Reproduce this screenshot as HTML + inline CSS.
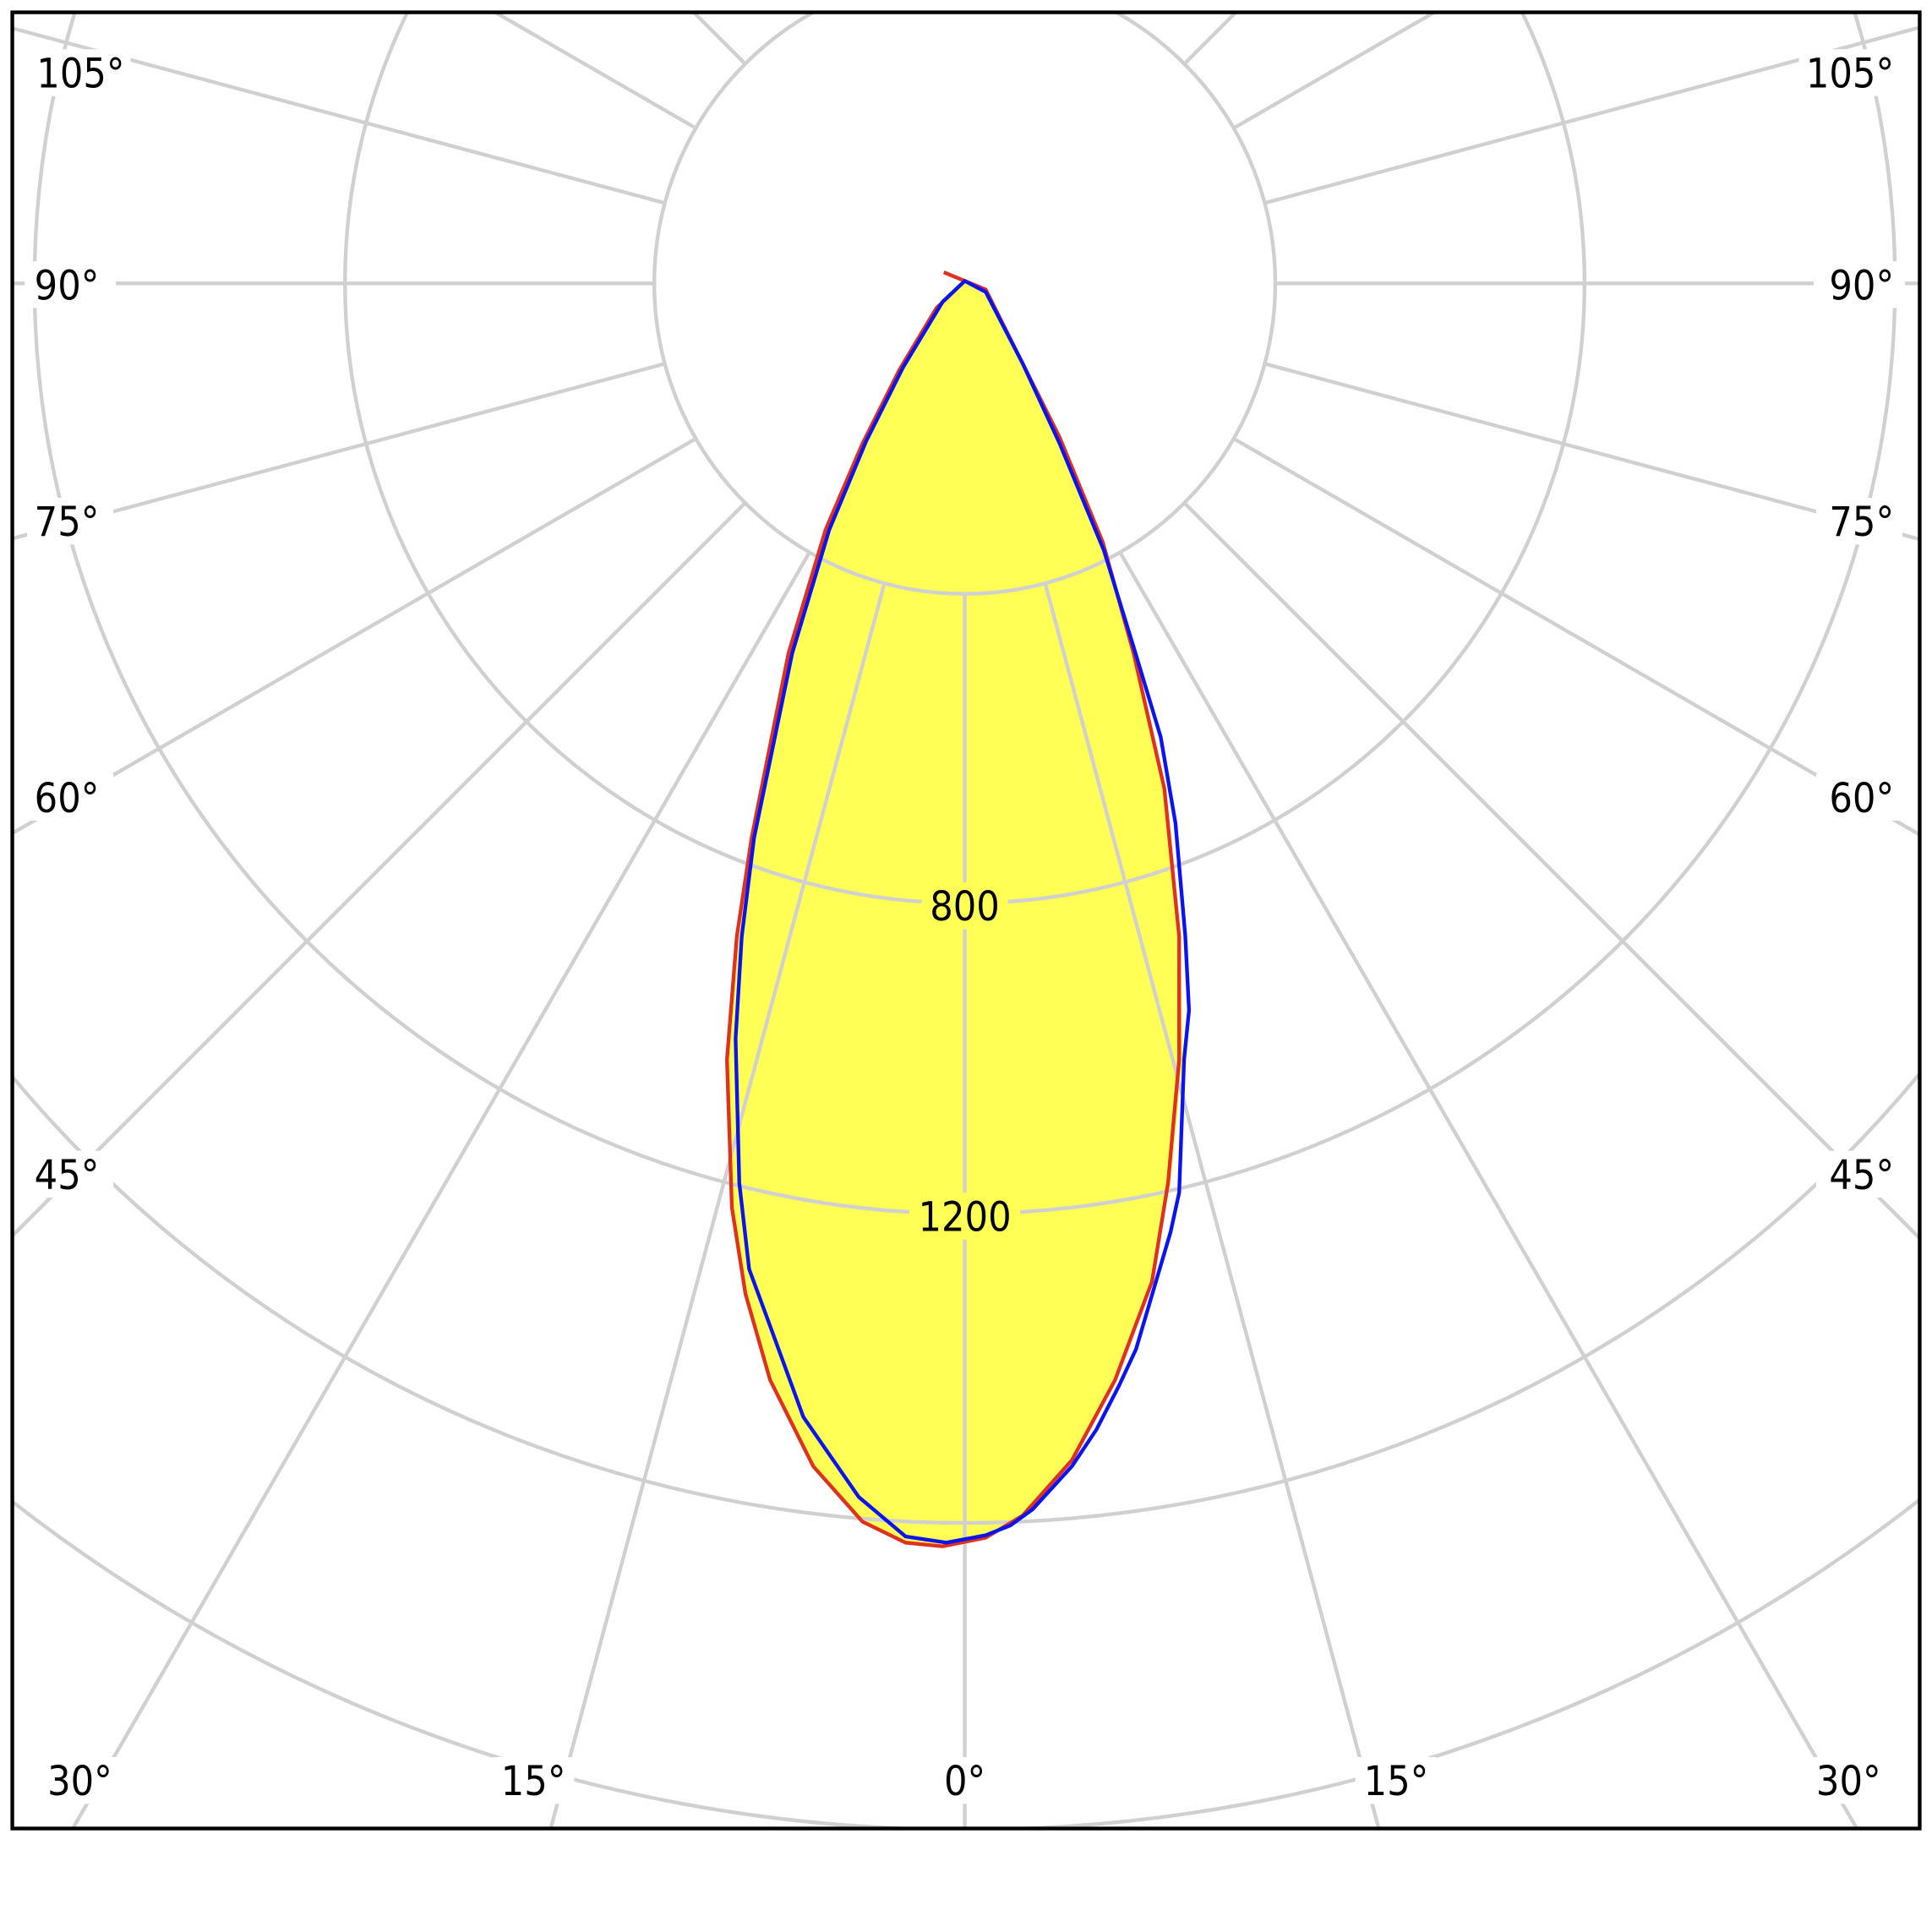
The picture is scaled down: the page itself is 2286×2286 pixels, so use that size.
<!DOCTYPE html>
<html><head><style>html,body{margin:0;padding:0;background:#fff;overflow:hidden;width:2286px;height:2286px}svg{display:block}</style></head>
<body>
<svg width="2286" height="2286" viewBox="0 0 1568 1568" xmlns="http://www.w3.org/2000/svg">
<defs><clipPath id="c"><rect x="10" y="10" width="1548" height="1474"/></clipPath></defs>
<rect width="1568" height="1568" fill="#fff"/>
<g clip-path="url(#c)">
<path d="M783,228 L760,250 L730,300 L700,360 L670,430 L640,530 L610,680 L598,760 L590,860 L594,980 L605,1050 L625,1120 L660,1190 L700,1235 L735,1252 L765,1255 L800,1248 L830,1230 L870,1185 L905,1120 L935,1040 L950,960 L960,860 L958,760 L945,640 L920,530 L895,440 L860,355 L830,295 L800,240 Z" fill="#ffff55"/>
<g fill="none" stroke="#d0d0d0" stroke-width="3">
<circle cx="783" cy="230" r="252"/><circle cx="783" cy="230" r="503"/><circle cx="783" cy="230" r="755"/><circle cx="783" cy="230" r="1006"/><circle cx="783" cy="230" r="1255"/><circle cx="783" cy="230" r="1506"/>
<g transform="translate(783,230)">
<line x1="0" y1="252" x2="0" y2="2500"/>
<g transform="rotate(15)"><line x1="0" y1="252" x2="0" y2="2500"/></g>
<g transform="rotate(30)"><line x1="0" y1="252" x2="0" y2="2500"/></g>
<g transform="rotate(45)"><line x1="0" y1="252" x2="0" y2="2500"/></g>
<g transform="rotate(60)"><line x1="0" y1="252" x2="0" y2="2500"/></g>
<g transform="rotate(75)"><line x1="0" y1="252" x2="0" y2="2500"/></g>
<g transform="rotate(90)"><line x1="0" y1="252" x2="0" y2="2500"/></g>
<g transform="rotate(105)"><line x1="0" y1="252" x2="0" y2="2500"/></g>
<g transform="rotate(120)"><line x1="0" y1="252" x2="0" y2="2500"/></g>
<g transform="rotate(135)"><line x1="0" y1="252" x2="0" y2="2500"/></g>
<g transform="rotate(150)"><line x1="0" y1="252" x2="0" y2="2500"/></g>
<g transform="rotate(165)"><line x1="0" y1="252" x2="0" y2="2500"/></g>
<g transform="rotate(-15)"><line x1="0" y1="252" x2="0" y2="2500"/></g>
<g transform="rotate(-30)"><line x1="0" y1="252" x2="0" y2="2500"/></g>
<g transform="rotate(-45)"><line x1="0" y1="252" x2="0" y2="2500"/></g>
<g transform="rotate(-60)"><line x1="0" y1="252" x2="0" y2="2500"/></g>
<g transform="rotate(-75)"><line x1="0" y1="252" x2="0" y2="2500"/></g>
<g transform="rotate(-90)"><line x1="0" y1="252" x2="0" y2="2500"/></g>
<g transform="rotate(-105)"><line x1="0" y1="252" x2="0" y2="2500"/></g>
<g transform="rotate(-120)"><line x1="0" y1="252" x2="0" y2="2500"/></g>
<g transform="rotate(-135)"><line x1="0" y1="252" x2="0" y2="2500"/></g>
<g transform="rotate(-150)"><line x1="0" y1="252" x2="0" y2="2500"/></g>
<g transform="rotate(-165)"><line x1="0" y1="252" x2="0" y2="2500"/></g>
</g></g>
<path d="M783,228 L760,250 L730,300 L700,360 L670,430 L640,530 L610,680 L598,760 L590,860 L594,980 L605,1050 L625,1120 L660,1190 L700,1235 L735,1252 L765,1255 L800,1248 L830,1230 L870,1185 L905,1120 L935,1040 L948,960 L957,860 L957,760 L945,640 L920,530 L895,440 L860,355 L830,295 L800,235 L766,221" fill="none" stroke="#e03020" stroke-width="3"/>
<path d="M783,228 L765,245 L733,298 L703,358 L673,430 L643,530 L612,680 L602,760 L597,843 L600,960 L608,1030 L622,1068 L652,1150 L697,1215 L735,1247 L768,1252 L800,1246 L820,1238 L838,1225 L870,1190 L890,1160 L908,1125 L922,1095 L950,1000 L957,968 L961,860 L965,820 L962,760 L954,668 L942,598 L920,525 L896,447 L860,360 L830,295 L800,237 Z" fill="none" stroke="#0a14f0" stroke-width="3"/>
</g>
<rect x="10" y="10" width="1548" height="1474" fill="none" stroke="#000" stroke-width="3"/>
<g font-family="'DejaVu Sans','Liberation Sans',sans-serif" font-size="33" fill="#000">
<g fill="#fff">
<rect x="26" y="40" width="80" height="38"/><rect x="20" y="212" width="74" height="38"/><rect x="22" y="404" width="70" height="38"/><rect x="22" y="628" width="70" height="38"/><rect x="22" y="934" width="70" height="38"/>
<rect x="1460" y="40" width="80" height="38"/><rect x="1472" y="212" width="74" height="38"/><rect x="1474" y="404" width="70" height="38"/><rect x="1474" y="628" width="70" height="38"/><rect x="1474" y="934" width="70" height="38"/>
<rect x="32" y="1426" width="66" height="38"/><rect x="400" y="1426" width="66" height="38"/><rect x="758" y="1426" width="50" height="38"/><rect x="1100" y="1426" width="66" height="38"/><rect x="1466" y="1426" width="66" height="38"/>
</g>
<g fill="#ffff55"><rect x="748" y="716" width="70" height="38"/><rect x="738" y="968" width="90" height="38"/></g>
<g transform="scale(0.9,1)">
<text x="33" y="71">105°</text><text x="31" y="243">90°</text><text x="31" y="435">75°</text><text x="31" y="659">60°</text><text x="31" y="965">45°</text>
<g text-anchor="end"><text x="1708" y="71">105°</text><text x="1708" y="243">90°</text><text x="1708" y="435">75°</text><text x="1708" y="659">60°</text><text x="1708" y="965">45°</text></g>
<g text-anchor="middle"><text x="72" y="1457">30°</text><text x="481" y="1457">15°</text><text x="870" y="1457">0°</text><text x="1259" y="1457">15°</text><text x="1667" y="1457">30°</text>
<text x="870" y="747">800</text><text x="870" y="999">1200</text></g>
</g>
</g>
</svg>
</body></html>
